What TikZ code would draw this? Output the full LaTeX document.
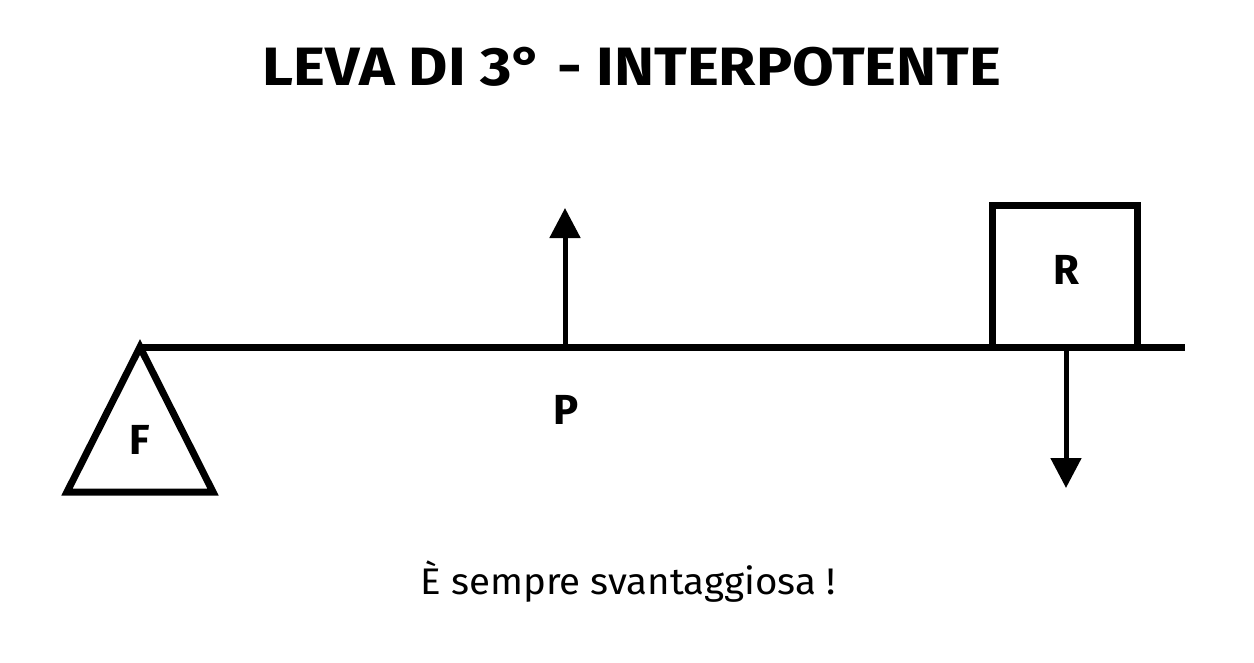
\documentclass[tikz,border=0pt]{standalone}
\usepackage{fontspec}
\setmainfont{Fira Sans}
\usetikzlibrary{arrows.meta}
\begin{document}
\begin{tikzpicture}[x=1pt,y=-1pt,
  thick line/.style={line width=7pt},
  force/.style={line width=5pt,-{Triangle[length=30pt,width=30pt]}},
  letter/.style={font=\fontsize{42}{42}\selectfont\bfseries},
  title/.style={font=\fontsize{54}{54}\selectfont\bfseries}]
\useasboundingbox (0,0) rectangle (1254,662);
\node[title,xscale=1.12] (t) at (632,67) {LEVA DI 3° - INTERPOTENTE};
% lever
\coordinate (L) at (140,347);
\coordinate (Rend) at (1185,347);
\draw[thick line] (L) -- (Rend);
% fulcrum
\coordinate (b1) at (67,492);
\coordinate (b2) at (213,492);
\draw[thick line,line join=miter] (L) -- (b2) -- (b1) -- cycle;
\node[letter] (F) at (140,440) {F};
% power
\coordinate (p0) at (565,347);
\coordinate (p1) at (565,208);
\draw[force] (p0) -- (p1);
\node[letter] (P) at (566,410) {P};
% resistance
\draw[thick line] (992,347) -- (992,205) -- (1137,205) -- (1137,347);
\node[letter] (R) at (1066,270) {R};
\coordinate (r0) at (1066,347);
\coordinate (r1) at (1066,488);
\draw[force] (r0) -- (r1);
\node[font=\fontsize{37}{37}\selectfont,xscale=1.04] (s) at (628,582) {È sempre svantaggiosa !};
\end{tikzpicture}
\end{document}
